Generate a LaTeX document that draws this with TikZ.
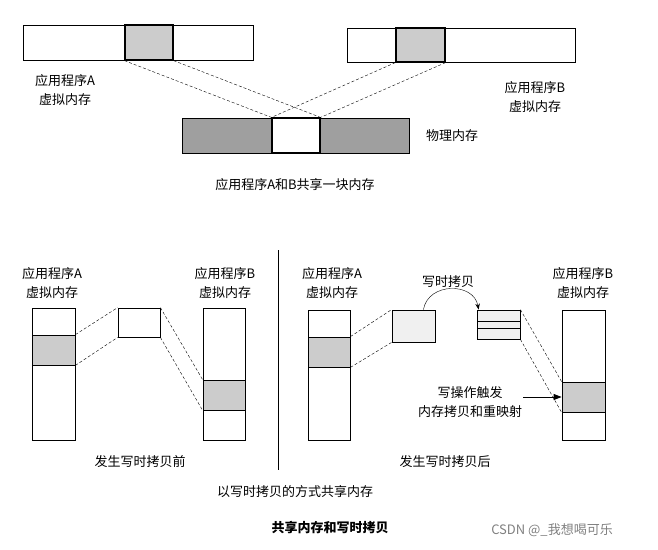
\documentclass[tikz,border=0pt]{standalone}
\usepackage{fontspec}
\setmainfont{Noto Sans CJK SC}
\usetikzlibrary{arrows.meta,positioning}
\tikzset{
    cell/.style={
           rectangle,
           draw=black, thick,
           inner sep=0pt,
           },
}
\tikzset{
    shared/.style={
           cell,
           fill=gray!40,
           very thick,
           },
}
\tikzset{
    lbl/.style={
           inner sep=1pt,
           align=center,
           font=\fontsize{13}{19}\selectfont,
           },
}
\tikzset{
    map/.style={
           densely dashed,
           thin,
           },
}
\begin{document}
\begin{tikzpicture}[x=1pt,y=-1pt]
\useasboundingbox (0,0) rectangle (658,549);
% top part
\node[cell,minimum width=230,minimum height=35](VA) at (138,42.5){};
\node[shared,minimum width=48,minimum height=35](VAs) at (149,42.5){};
\node[cell,minimum width=228,minimum height=34](VB) at (461,45){};
\node[shared,minimum width=49,minimum height=34](VBs) at (420.5,45){};
\node[cell,fill=gray!75,minimum width=227,minimum height=35](PM) at (295.5,135.5){};
\node[shared,fill=white,minimum width=48,minimum height=35](PMs) at (296,135.5){};
\node[lbl](LA) at (65,90){应用程序A\\虚拟内存};
\node[lbl](LB) at (535,97){应用程序B\\虚拟内存};
\node[lbl](LP) at (452,136){物理内存};
\node[lbl](CAP1) at (295,185){应用程序A和B共享一块内存};
\path (VAs.south west) edge[map] (PMs.north west);
\path (VAs.south east) edge[map] (PMs.north east);
\path (VBs.south west) edge[map] (PMs.north west);
\path (VBs.south east) edge[map] (PMs.north east);
% divider
\draw (278,250) -- (278,470);
% before copy
\node[cell,minimum width=43,minimum height=132](BA) at (53.5,374){};
\node[shared,thick,minimum width=43,minimum height=30](BAs) at (53.5,350){};
\node[cell,minimum width=42,minimum height=29](BM) at (139,322.5){};
\node[cell,minimum width=42,minimum height=132](BB) at (224,374){};
\node[shared,thick,minimum width=42,minimum height=30](BBs) at (224,395){};
\node[lbl](BLA) at (52,283){应用程序A\\虚拟内存};
\node[lbl](BLB) at (225,283){应用程序B\\虚拟内存};
\node[lbl](CAP2) at (140,462){发生写时拷贝前};
\path (BAs.north east) edge[map] (BM.north west);
\path (BAs.south east) edge[map] (BM.south west);
\path (BM.north east) edge[map] (BBs.north west);
\path (BM.south east) edge[map] (BBs.south west);
% after copy
\node[cell,minimum width=42,minimum height=130](CA) at (329,375){};
\node[shared,thick,minimum width=42,minimum height=30](CAs) at (329,352){};
\node[cell,fill=gray!12,minimum width=43,minimum height=32](CM) at (413.5,326){};
\node[cell,fill=gray!12,minimum width=43,minimum height=29](CN) at (498.5,324.5){};
\node[cell,minimum width=43,minimum height=7](CNm) at (498.5,324.5){};
\node[cell,minimum width=43,minimum height=130](CB) at (583.5,375){};
\node[shared,thick,minimum width=43,minimum height=30](CBs) at (583.5,397){};
\node[lbl](CLA) at (332,283){应用程序A\\虚拟内存};
\node[lbl](CLB) at (583,283){应用程序B\\虚拟内存};
\node[lbl](CW) at (448,282){写时拷贝};
\node[lbl](CT) at (470,402){写操作触发\\内存拷贝和重映射};
\node[lbl](CAP3) at (445,462){发生写时拷贝后};
\path (CAs.north east) edge[map] (CM.north west);
\path (CAs.south east) edge[map] (CM.south west);
\path (CN.north east) edge[map] (CBs.north west);
\path (CN.south east) edge[map] (CBs.south west);
\draw[-{Stealth[length=6pt]}] ([xshift=-12pt]CM.north east) to[out=80,in=100,looseness=1.3] ([xshift=2pt]CN.north west);
\draw[-{Triangle[length=8pt,width=6pt]},thick] (CBs.west -| CT.east) -- (CBs.west);
% captions
\node[lbl](CAP4) at (295,492){以写时拷贝的方式共享内存};
\node[lbl,font=\bfseries\fontsize{13}{19}\selectfont](TTL) at (330,528){共享内存和写时拷贝};
\node[lbl,text=gray](WM) at (552,530){CSDN @\_我想喝可乐};
\end{tikzpicture}
\end{document}
